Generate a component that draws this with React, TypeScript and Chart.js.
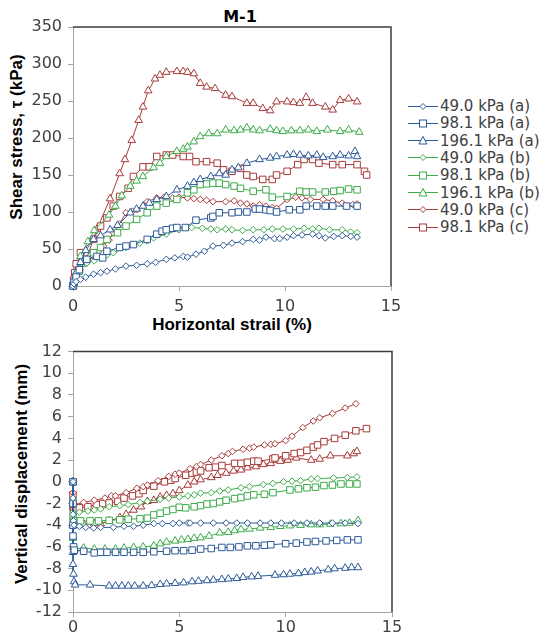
import React, { useEffect, useRef } from 'react';
import { Chart, registerables } from 'chart.js';
Chart.register(...registerables);

const BLUE = '#2d5a98';
const GREEN = '#3dac4b';
const RED = '#a83b3a';

// ---------- Shear stress vs horizontal strain (top) ----------
const strainA49 = [0, 0.05, 0.15, 0.35, 0.6, 0.97, 1.3, 1.6, 2.0, 2.5, 3.0, 3.5, 3.9, 4.4, 4.8, 5.2, 5.4, 5.8, 6.2, 6.6, 7.1, 7.5, 8.0, 8.5, 8.8, 9.1, 9.5, 9.75, 10.1, 10.4, 10.8, 11.3, 11.6, 11.9, 12.3, 12.7, 13.1, 13.4];
const tauA49 = [0, 3, 6, 9, 12, 16, 18, 20, 23, 27, 28, 30, 32, 36, 38, 40, 39, 43, 47, 54, 55, 58, 60, 63, 62, 66, 64, 64, 66, 68, 69, 70, 68, 65, 67, 68, 67, 66];

const strainA98 = [0, 0.05, 0.15, 0.3, 0.65, 1.13, 1.4, 1.6, 2.2, 2.5, 2.85, 3.5, 3.95, 4.2, 4.4, 4.7, 4.9, 5.3, 5.8, 6.5, 6.6, 6.9, 7.5, 7.8, 8.2, 8.6, 8.8, 9.1, 9.3, 9.6, 10.2, 10.7, 11.0, 11.5, 11.9, 12.25, 12.9, 13.4];
const tauA98 = [0, 5, 12, 22, 36, 40, 38, 47, 52, 54, 56, 63, 70, 74, 76, 78, 79, 79, 89, 92, 94, 99, 99, 100, 100, 104, 104, 103, 102, 100, 103, 103, 108, 108, 108, 108, 108, 108];

const strainA196 = [0, 0.05, 0.15, 0.35, 0.6, 0.97, 1.3, 1.75, 2.1, 2.7, 3.0, 3.3, 3.6, 3.95, 4.4, 4.9, 5.4, 5.7, 6.0, 6.5, 6.9, 7.2, 7.5, 7.8, 8.2, 8.8, 9.3, 9.6, 10.1, 10.4, 10.7, 11.1, 11.5, 11.8, 12.25, 12.6, 13.0, 13.3, 13.4];
const tauA196 = [0, 8, 18, 32, 48, 63, 68, 76, 82, 99, 104, 108, 112, 117, 121, 130, 135, 140, 144, 148, 152, 150, 157, 160, 166, 171, 173, 175, 177, 178, 177, 176, 177, 174, 175, 177, 176, 182, 175];

const strainB49 = [0, 0.05, 0.15, 0.35, 0.65, 1.0, 1.3, 1.6, 1.9, 2.5, 3.15, 3.5, 3.8, 4.4, 5.0, 5.6, 6.1, 6.5, 6.8, 7.2, 7.5, 8.0, 8.5, 9.0, 9.4, 9.9, 10.4, 10.9, 11.3, 11.6, 12.1, 12.7, 13.1, 13.4];
const tauB49 = [0, 5, 12, 22, 31, 34, 38, 42, 45, 52, 58, 61, 65, 70, 76, 79, 78, 77, 76, 77, 76, 75, 76, 76, 77, 77, 77, 78, 77, 78, 76, 76, 73, 72];

const strainB98 = [0, 0.05, 0.15, 0.3, 0.5, 0.97, 1.3, 1.6, 2.1, 2.5, 3.0, 3.5, 3.95, 4.4, 4.9, 5.4, 5.7, 6.0, 6.3, 6.6, 6.9, 7.2, 7.6, 7.9, 8.5, 9.1, 9.4, 10.1, 10.7, 11.0, 11.3, 11.9, 12.3, 12.6, 13.0, 13.4];
const tauB98 = [0, 4, 10, 20, 31, 45, 52, 63, 72, 81, 90, 99, 108, 112, 117, 126, 130, 137, 138, 139, 139, 137, 135, 132, 128, 130, 120, 121, 128, 127, 127, 127, 128, 129, 131, 130];

const strainB196 = [0, 0.05, 0.15, 0.35, 0.7, 1.0, 1.7, 2.0, 2.3, 2.7, 3.0, 3.3, 3.8, 4.1, 4.4, 4.9, 5.2, 5.4, 5.7, 6.0, 6.4, 6.8, 7.2, 7.6, 7.9, 8.2, 8.5, 8.8, 9.3, 9.6, 9.9, 10.3, 10.7, 11.1, 11.5, 12.0, 12.6, 13.0, 13.5];
const tauB196 = [0, 8, 18, 40, 60, 75, 96, 108, 122, 135, 142, 148, 160, 166, 175, 182, 185, 188, 195, 202, 206, 206, 211, 210, 211, 214, 211, 210, 212, 210, 209, 210, 210, 211, 209, 211, 209, 211, 208];

const strainC49 = [0, 0.05, 0.15, 0.35, 0.7, 0.97, 1.2, 1.44, 1.7, 1.9, 2.2, 2.5, 2.8, 3.0, 3.5, 3.95, 4.3, 4.7, 5.0, 5.4, 5.7, 6.0, 6.3, 6.6, 7.2, 7.6, 7.9, 8.2, 8.5, 8.8, 9.1, 9.4, 9.6, 10.1, 10.5, 10.8, 11.2, 11.8, 12.25, 12.7, 13.2, 13.4];
const tauC49 = [0, 5, 12, 27, 35, 40, 46, 54, 62, 72, 84, 99, 101, 103, 114, 119, 120, 119, 120, 119, 118, 117, 116, 114, 114, 115, 112, 111, 108, 110, 108, 106, 105, 117, 120, 119, 117, 117, 115, 112, 110, 111];

const strainC98 = [0, 0.03, 0.08, 0.15, 0.35, 0.97, 1.3, 1.6, 1.9, 2.2, 2.6, 2.85, 3.3, 3.6, 3.95, 4.4, 4.7, 5.2, 5.5, 5.8, 6.3, 6.8, 7.1, 7.5, 7.9, 8.2, 8.5, 8.95, 9.4, 9.6, 10.1, 10.6, 10.9, 11.3, 11.6, 12.25, 12.7, 13.4, 13.75, 13.85];
const tauC98 = [0, 8, 18, 30, 45, 63, 81, 92, 108, 121, 132, 148, 161, 161, 175, 177, 177, 175, 175, 168, 168, 166, 157, 155, 159, 150, 148, 144, 144, 150, 155, 164, 171, 171, 166, 164, 164, 164, 155, 150];

const strainC196 = [0, 0.05, 0.15, 0.3, 0.63, 1.13, 1.75, 2.2, 2.45, 2.77, 3.1, 3.3, 3.55, 3.87, 4.1, 4.4, 4.9, 5.2, 5.4, 5.7, 6.0, 6.3, 6.7, 7.2, 7.5, 8.2, 8.5, 8.95, 9.3, 9.6, 10.1, 10.4, 10.7, 11.0, 11.3, 11.9, 12.25, 12.6, 13.0, 13.4];
const tauC196 = [0, 10, 20, 30, 36, 77, 118, 152, 171, 197, 224, 242, 264, 280, 285, 289, 290, 290, 289, 287, 274, 269, 267, 258, 256, 247, 247, 240, 237, 249, 249, 248, 247, 255, 247, 242, 238, 251, 253, 249];

// ---------- Vertical displacement vs horizontal strain (bottom) ----------
const vStrainA49 = [0, 0, 0, 0.02, 0.05, 0.3, 0.6, 0.97, 1.3, 1.9, 2.4, 2.85, 3.3, 3.8, 4.2, 4.7, 5.0, 5.4, 5.5, 6.0, 6.6, 7.2, 7.7, 8.2, 8.8, 9.3, 9.8, 10.4, 11.0, 11.6, 12.2, 12.8, 13.4];
const dispA49 = [0, -1.5, -3.0, -3.6, -4.0, -4.1, -4.2, -4.25, -4.2, -4.2, -4.1, -4.1, -4.0, -3.85, -3.85, -3.85, -3.8, -3.8, -3.8, -3.8, -3.8, -3.8, -3.8, -3.8, -3.8, -3.8, -3.8, -3.8, -3.8, -3.8, -3.8, -3.8, -3.85];

const vStrainA98 = [0, 0, 0, 0, 0.03, 0.06, 0.5, 1.0, 1.3, 1.6, 2.0, 2.4, 2.85, 3.3, 3.8, 4.4, 4.8, 5.2, 5.6, 6.0, 6.5, 7.0, 7.4, 7.8, 8.2, 8.6, 9.0, 9.3, 10.0, 10.5, 11.0, 11.4, 11.9, 12.4, 12.9, 13.4];
const dispA98 = [0, -2.0, -4.0, -5.0, -6.0, -6.3, -6.4, -6.55, -6.5, -6.5, -6.5, -6.5, -6.5, -6.5, -6.45, -6.4, -6.35, -6.35, -6.3, -6.2, -6.15, -6.05, -6.05, -6.0, -5.9, -5.9, -5.85, -5.8, -5.7, -5.65, -5.55, -5.5, -5.45, -5.4, -5.35, -5.35];

const vStrainA196 = [0, 0, 0, 0, 0.02, 0.05, 0.1, 0.8, 1.7, 2.0, 2.3, 2.6, 2.9, 3.3, 3.7, 4.1, 4.4, 4.8, 5.2, 5.6, 5.9, 6.3, 6.6, 7.0, 7.3, 7.7, 8.0, 8.4, 8.7, 9.5, 9.9, 10.2, 10.6, 10.9, 11.2, 11.5, 12.0, 12.3, 12.8, 13.1, 13.4];
const dispA196 = [0, -4.0, -6.5, -7.6, -8.5, -9.2, -9.5, -9.5, -9.6, -9.6, -9.6, -9.6, -9.6, -9.6, -9.55, -9.45, -9.4, -9.35, -9.3, -9.2, -9.15, -9.1, -9.05, -9.0, -8.95, -8.9, -8.8, -8.75, -8.7, -8.6, -8.55, -8.5, -8.45, -8.35, -8.3, -8.2, -8.1, -8.0, -7.95, -7.9, -7.9];

const vStrainB49 = [0, 0, 0, 0.03, 0.3, 0.7, 1.0, 1.3, 1.7, 2.2, 2.6, 3.15, 3.5, 4.1, 4.5, 5.0, 5.4, 5.7, 6.0, 6.5, 6.9, 7.3, 7.9, 8.3, 8.95, 9.4, 9.9, 10.3, 10.7, 11.2, 11.5, 12.25, 12.9, 13.35];
const dispB49 = [0, -1.5, -2.8, -3.0, -2.8, -2.7, -2.6, -2.5, -2.3, -2.2, -2.1, -1.9, -1.8, -1.6, -1.5, -1.4, -1.3, -1.2, -1.05, -1.0, -0.85, -0.75, -0.55, -0.45, -0.25, -0.15, 0, 0.05, 0.1, 0.25, 0.3, 0.35, 0.4, 0.45];

const vStrainB98 = [0, 0, 0, 0.03, 0.35, 0.8, 1.2, 1.7, 2.2, 2.6, 3.15, 3.5, 3.8, 4.1, 4.4, 4.7, 5.0, 5.3, 5.7, 6.0, 6.3, 6.6, 6.9, 7.2, 7.6, 7.9, 8.2, 8.5, 9.0, 9.4, 10.2, 10.6, 11.0, 11.4, 11.8, 12.2, 12.6, 13.0, 13.35];
const dispB98 = [0, -1.8, -3.3, -3.6, -3.6, -3.6, -3.6, -3.55, -3.5, -3.45, -3.4, -3.35, -3.05, -2.9, -2.7, -2.55, -2.35, -2.4, -2.3, -2.2, -2.05, -2.0, -1.85, -1.7, -1.55, -1.45, -1.3, -1.2, -1.15, -1.0, -0.75, -0.65, -0.55, -0.5, -0.35, -0.3, -0.2, -0.2, -0.2];

const vStrainB196 = [0, 0, 0, 0, 0.03, 0.06, 0.5, 1.0, 1.5, 2.0, 2.4, 2.85, 3.3, 3.8, 4.1, 4.4, 4.8, 5.1, 5.4, 5.7, 6.0, 6.4, 6.9, 7.3, 7.6, 7.9, 8.3, 8.8, 9.3, 9.75, 10.2, 10.7, 11.2, 11.6, 12.1, 12.6, 13.0, 13.4];
const dispB196 = [0, -2.0, -4.0, -5.2, -6.0, -6.2, -6.1, -6.2, -6.2, -6.2, -6.1, -6.05, -6.0, -5.9, -5.7, -5.55, -5.45, -5.35, -5.3, -5.2, -5.15, -5.0, -4.7, -4.65, -4.5, -4.4, -4.35, -4.25, -4.2, -4.1, -4.05, -4.0, -3.95, -3.95, -3.9, -3.85, -3.8, -3.55];

const vStrainC49 = [0, 0, 0, 0.02, 0.05, 0.5, 1.0, 1.5, 1.8, 2.0, 2.5, 3.0, 3.3, 3.5, 4.0, 4.5, 4.8, 5.0, 5.5, 5.8, 6.0, 6.5, 7.0, 7.3, 7.5, 8.0, 8.3, 8.5, 9.0, 9.3, 9.5, 10.0, 10.3, 10.8, 11.3, 11.6, 12.2, 12.8, 13.3];
const dispC49 = [0, -1.0, -2.0, -2.2, -2.1, -1.9, -1.7, -1.5, -1.3, -1.3, -1.0, -0.6, -0.45, -0.3, 0.1, 0.5, 0.7, 0.8, 1.2, 1.4, 1.6, 2.0, 2.4, 2.6, 2.8, 3.0, 3.1, 3.2, 3.4, 3.45, 3.5, 3.8, 4.2, 5.0, 5.6, 5.9, 6.3, 6.8, 7.2];

const vStrainC98 = [0, 0, 0, 0.02, 0.05, 0.3, 0.7, 1.1, 1.4, 1.7, 2.1, 2.4, 2.8, 3.1, 3.3, 3.8, 4.3, 4.6, 4.8, 5.3, 5.6, 5.8, 6.0, 6.4, 6.7, 7.0, 7.6, 7.9, 8.2, 8.5, 8.7, 9.4, 9.5, 10.0, 10.4, 10.7, 11.0, 11.3, 11.5, 11.8, 12.3, 12.8, 13.3, 13.8];
const dispC98 = [0, -1.2, -2.3, -2.6, -2.6, -2.4, -2.3, -2.1, -2.0, -1.95, -1.8, -1.5, -1.3, -1.1, -0.8, -0.4, 0.0, 0.15, 0.3, 0.6, 0.8, 0.9, 1.0, 1.3, 1.35, 1.5, 1.7, 1.7, 1.8, 1.9, 1.9, 2.1, 2.2, 2.4, 2.6, 2.7, 2.9, 3.2, 3.4, 3.7, 4.0, 4.3, 4.7, 4.9];

const vStrainC196 = [0, 0, 0, 0.02, 0.05, 0.5, 1.0, 1.3, 1.7, 2.2, 2.5, 2.85, 3.2, 3.5, 3.8, 4.1, 4.4, 4.7, 5.0, 5.4, 5.7, 6.0, 6.5, 6.8, 7.2, 7.55, 7.9, 8.2, 8.6, 8.95, 9.3, 9.75, 10.1, 10.5, 11.2, 11.6, 12.1, 12.9, 13.2, 13.35];
const dispC196 = [0, -2.0, -3.8, -4.0, -3.9, -3.9, -3.85, -3.85, -3.6, -3.3, -3.0, -2.6, -2.3, -1.8, -1.7, -1.4, -1.25, -1.1, -0.8, -0.3, 0.0, 0.2, 0.4, 0.6, 0.8, 1.0, 1.1, 1.3, 1.4, 1.6, 1.7, 1.9, 2.0, 2.2, 2.0, 2.1, 2.4, 2.4, 2.6, 2.8];

// ---------- Axis ticks ----------
const strainTicks = [0, 5, 10, 15];
const tauTicks = [0, 50, 100, 150, 200, 250, 300, 350];
const dispTicks = [-12, -10, -8, -6, -4, -2, 0, 2, 4, 6, 8, 10, 12];

type Marker = 'rectRot' | 'rect' | 'triangle';
interface Series {
  label: string; color: string; marker: Marker; inLegend: boolean;
  tx: number[]; ty: number[]; vx: number[]; vy: number[];
}

const SERIES: Series[] = [
  { label: '49.0 kPa (a)', color: BLUE, marker: 'rectRot', inLegend: true, tx: strainA49, ty: tauA49, vx: vStrainA49, vy: dispA49 },
  { label: '98.1 kPa (a)', color: BLUE, marker: 'rect', inLegend: true, tx: strainA98, ty: tauA98, vx: vStrainA98, vy: dispA98 },
  { label: '196.1 kPa (a)', color: BLUE, marker: 'triangle', inLegend: true, tx: strainA196, ty: tauA196, vx: vStrainA196, vy: dispA196 },
  { label: '49.0 kPa (b)', color: GREEN, marker: 'rectRot', inLegend: true, tx: strainB49, ty: tauB49, vx: vStrainB49, vy: dispB49 },
  { label: '98.1 kPa (b)', color: GREEN, marker: 'rect', inLegend: true, tx: strainB98, ty: tauB98, vx: vStrainB98, vy: dispB98 },
  { label: '196.1 kPa (b)', color: GREEN, marker: 'triangle', inLegend: true, tx: strainB196, ty: tauB196, vx: vStrainB196, vy: dispB196 },
  { label: '49.0 kPa (c)', color: RED, marker: 'rectRot', inLegend: true, tx: strainC49, ty: tauC49, vx: vStrainC49, vy: dispC49 },
  { label: '98.1 kPa (c)', color: RED, marker: 'rect', inLegend: true, tx: strainC98, ty: tauC98, vx: vStrainC98, vy: dispC98 },
  { label: '196.1 kPa (c)', color: RED, marker: 'triangle', inLegend: false, tx: strainC196, ty: tauC196, vx: vStrainC196, vy: dispC196 },
];

const RADIUS: Record<Marker, number> = { rectRot: 3.3, rect: 4.6, triangle: 4.4 };

const zip = (xs: number[], ys: number[]) => xs.map((x, i) => ({ x, y: ys[i] }));

const AXIS_GRAY = '#a6a6a6';

const framePlugin = {
  id: 'plotFrame',
  afterDatasetsDraw(chart: any) {
    const { ctx, chartArea: a } = chart;
    ctx.save();
    ctx.strokeStyle = '#3c3c3c';
    ctx.lineWidth = 1.5;
    ctx.beginPath();
    ctx.moveTo(a.left, a.top);
    ctx.lineTo(a.right, a.top);
    ctx.lineTo(a.right, a.bottom);
    ctx.stroke();
    ctx.restore();
  },
};

function makeDatasets(which: 'tau' | 'disp') {
  return SERIES.map((s) => ({
    label: s.label,
    data: which === 'tau' ? zip(s.tx, s.ty) : zip(s.vx, s.vy),
    borderColor: s.color,
    backgroundColor: s.color,
    fill: false,
    borderWidth: 1,
    pointStyle: s.marker,
    pointRadius: RADIUS[s.marker],
    pointBorderWidth: 1,
    pointBorderColor: s.color,
    pointBackgroundColor: '#ffffff',
    tension: 0,
    clip: false as any,
  }));
}

function makeOptions(yTicks: number[], xHeight: number, xPad: number, padding: any) {
  return {
    responsive: false,
    animation: false as const,
    devicePixelRatio: 1,
    layout: { padding },
    plugins: { legend: { display: false }, tooltip: { enabled: false } },
    scales: {
      x: {
        type: 'linear' as const,
        min: strainTicks[0],
        max: strainTicks[strainTicks.length - 1],
        ticks: { color: '#404040', font: { family: 'DejaVu Sans', size: 16 }, padding: xPad, z: 1 },
        afterBuildTicks: (s: any) => { s.ticks = strainTicks.map((v) => ({ value: v })); },
        grid: { display: true, drawOnChartArea: false, drawTicks: true, tickLength: 5, color: AXIS_GRAY },
        border: { display: true, color: AXIS_GRAY, width: 1 },
        afterFit: (s: any) => { s.height = xHeight; },
      },
      y: {
        type: 'linear' as const,
        min: yTicks[0],
        max: yTicks[yTicks.length - 1],
        ticks: { color: '#404040', font: { family: 'DejaVu Sans', size: 16 }, padding: 6, autoSkip: false, z: 1 },
        afterBuildTicks: (s: any) => { s.ticks = yTicks.map((v) => ({ value: v })); },
        grid: { display: true, drawOnChartArea: false, drawTicks: true, tickLength: 5, color: AXIS_GRAY },
        border: { display: true, color: AXIS_GRAY, width: 1 },
        afterFit: (s: any) => { s.width = 73; },
      },
    },
  };
}

function LegendMarker({ marker, color }: { marker: Marker; color: string }) {
  let shape: React.ReactNode;
  if (marker === 'rectRot') shape = <polygon points="15,3 18,6 15,9 12,6" fill="#fff" stroke={color} strokeWidth={1} />;
  else if (marker === 'rect') shape = <rect x={11.5} y={2.5} width={7} height={7} fill="#fff" stroke={color} strokeWidth={1} />;
  else shape = <polygon points="15,2 19,9.5 11,9.5" fill="#fff" stroke={color} strokeWidth={1} />;
  return (
    <svg width={30} height={12} style={{ display: 'block' }}>
      <line x1={0} y1={6} x2={30} y2={6} stroke={color} strokeWidth={1} />
      {shape}
    </svg>
  );
}

const titleStyle: React.CSSProperties = {
  position: 'absolute', whiteSpace: 'nowrap', fontFamily: '"Liberation Sans", Arial, sans-serif',
  fontWeight: 'bold', fontSize: 17, color: '#000', lineHeight: '20px', pointerEvents: 'none',
};

export default function App() {
  const topRef = useRef<HTMLCanvasElement>(null);
  const botRef = useRef<HTMLCanvasElement>(null);

  useEffect(() => {
    const top = new Chart(topRef.current!, {
      type: 'line',
      data: { datasets: makeDatasets('tau') as any },
      options: makeOptions(tauTicks, 50, 6, { left: 0, top: 27, right: 154, bottom: 0 }) as any,
      plugins: [framePlugin],
    });
    const bot = new Chart(botRef.current!, {
      type: 'line',
      data: { datasets: makeDatasets('disp') as any },
      options: makeOptions(dispTicks, 26, 1, { left: 0, top: 10, right: 153, bottom: 0 }) as any,
      plugins: [framePlugin],
    });
    return () => { top.destroy(); bot.destroy(); };
  }, []);

  const legendItems = SERIES.filter((s) => s.inLegend);

  return (
    <div style={{ position: 'absolute', left: 0, top: 0, width: 545, height: 638, background: '#fff' }}>
      <div style={{ ...titleStyle, fontFamily: '"DejaVu Sans", sans-serif', fontSize: 16, left: 240, top: 17, transform: 'translate(-50%, -50%)' }}>M-1</div>
      <div style={{ ...titleStyle, left: 232, top: 325, transform: 'translate(-50%, -50%)' }}>Horizontal strail (%)</div>
      <div style={{ ...titleStyle, left: 17, top: 137, transform: 'translate(-50%, -50%) rotate(-90deg)' }}>Shear stress, τ (kPa)</div>
      <div style={{ ...titleStyle, left: 22, top: 474, transform: 'translate(-50%, -50%) rotate(-90deg)' }}>Vertical displacement (mm)</div>

      {legendItems.map((s, i) => (
        <div key={s.label} style={{ position: 'absolute', left: 408, top: 106 + i * 17.3, transform: 'translateY(-50%)', display: 'flex', alignItems: 'center', whiteSpace: 'nowrap' }}>
          <LegendMarker marker={s.marker} color={s.color} />
          <span style={{ marginLeft: 2, fontFamily: '"DejaVu Sans", sans-serif', fontSize: 15, color: '#404040', lineHeight: '17px' }}>{s.label}</span>
        </div>
      ))}

      <canvas ref={topRef} width={545} height={336} style={{ position: 'absolute', left: 0, top: 0, width: 545, height: 336, pointerEvents: 'none' }} />
      <canvas ref={botRef} width={545} height={302} style={{ position: 'absolute', left: 0, top: 336, width: 545, height: 302, pointerEvents: 'none' }} />
    </div>
  );
}
